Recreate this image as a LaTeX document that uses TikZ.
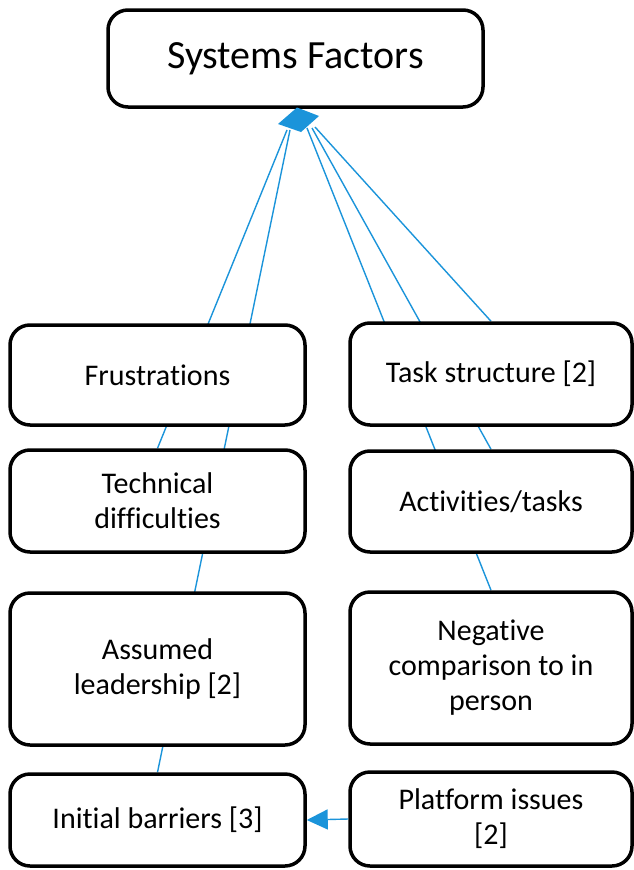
\documentclass[tikz,border=0pt]{standalone}
\usepackage{fontspec}
\setmainfont[Ligatures=NoCommon]{Carlito}
\usetikzlibrary{arrows.meta,backgrounds}
\definecolor{linkblue}{RGB}{27,148,218}
\tikzset{
  box/.style={draw=black, line width=3.5pt, rounded corners=20pt, fill=white,
    align=center, inner sep=0pt, font=\fontsize{30}{35}\selectfont},
  link/.style={draw=linkblue, line width=1.4pt},
}
\begin{document}
\begin{tikzpicture}[x=1pt,y=-1pt]
\useasboundingbox (0,0) rectangle (634,870);
\node[box, minimum width=375pt, minimum height=97pt, font=\fontsize{40}{46}\selectfont] (sf) at (295.5,58.5) {Systems Factors};
\node[box, minimum width=295pt, minimum height=100pt] (fr) at (157.5,375) {Frustrations};
\node[box, minimum width=282pt, minimum height=102pt] (ts) at (491,374) {Task structure [2]};
\node[box, minimum width=295pt, minimum height=102pt] (td) at (157.5,501) {Technical\\difficulties};
\node[box, minimum width=282pt, minimum height=101pt] (at) at (491,501.5) {Activities/tasks};
\node[box, minimum width=295pt, minimum height=152pt] (al) at (157.5,669) {Assumed\\leadership [2]};
\node[box, minimum width=282pt, minimum height=152pt] (nc) at (491,668) {Negative\\comparison to in\\person};
\node[box, minimum width=295pt, minimum height=92pt] (ib) at (157.5,820) {Initial barriers [3]};
\node[box, minimum width=282pt, minimum height=94pt] (pi) at (491,819) {Platform issues\\{[2]}};
% hub
\coordinate (h1) at (287,130);
\coordinate (h2) at (290,130);
\coordinate (h3) at (307,128);
\coordinate (h4) at (312,128);
\coordinate (h5) at (315,127);
\begin{pgfonlayer}{background}
\draw[link] (h1) -- (td.north);
\draw[link] (h2) -- (ib.north);
\draw[link] (h3) -- (nc.north);
\draw[link] (h4) -- (at.north);
\draw[link] (h5) -- (ts.north);
\end{pgfonlayer}
\fill[linkblue] (297,107.5) -- (319,116) -- (301,132) -- (278,124) -- cycle;
\draw[link, -{Triangle[length=21pt,width=20pt]}] (pi.west) -- (ib.east);
\end{tikzpicture}
\end{document}
